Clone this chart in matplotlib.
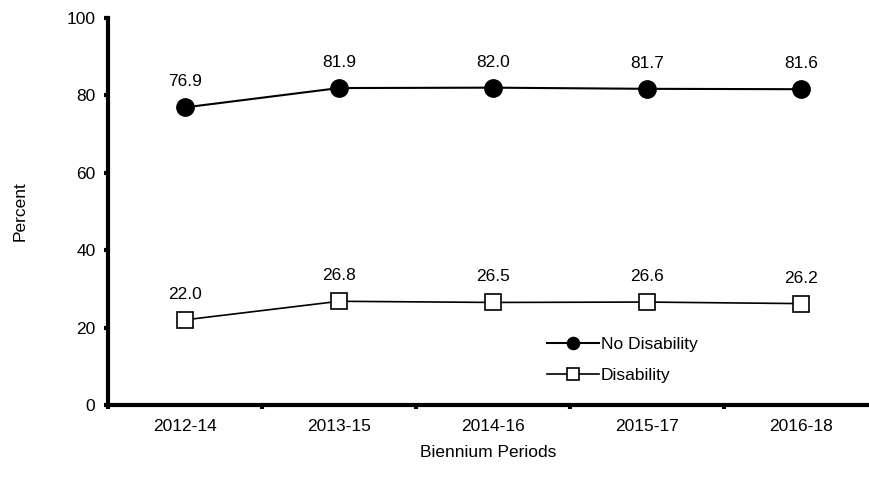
import matplotlib
matplotlib.use("Agg")
import matplotlib.pyplot as plt

periods = ["2012-14", "2013-15", "2014-16", "2015-17", "2016-18"]
no_disability = [76.9, 81.9, 82.0, 81.7, 81.6]
disability = [22.0, 26.8, 26.5, 26.6, 26.2]
yticks = [0, 20, 40, 60, 80, 100]

FS = 12.5
plt.rcParams['font.family'] = ['Liberation Sans', 'DejaVu Sans']
fig = plt.figure(figsize=(8.69, 4.87), dpi=100)
ax = fig.add_axes([108/869, 82/487, 1 - 108/869, (405-18)/487])

x = list(range(len(periods)))
ax.plot(x, no_disability, color='black', lw=1.5, marker='o', markersize=12.5,
        markerfacecolor='black', label='No Disability', zorder=3)
ax.plot(x, disability, color='black', lw=1.2, marker='s', markersize=12,
        markerfacecolor='white', markeredgewidth=1.2, label='Disability', zorder=3)

for xi, v in zip(x, no_disability):
    ax.annotate(f"{v:.1f}", (xi, v), xytext=(0, 13), textcoords='offset points',
                ha='center', va='bottom', fontsize=FS)
for xi, v in zip(x, disability):
    ax.annotate(f"{v:.1f}", (xi, v), xytext=(0, 13), textcoords='offset points',
                ha='center', va='bottom', fontsize=FS)

ax.set_xlim(-0.5, -0.5 + (869-108)/154)
ax.set_ylim(0, 100)
ax.set_yticks(yticks)
ax.set_yticklabels([str(t) for t in yticks], fontsize=FS)
ax.set_xticks(x)
ax.set_xticklabels(periods, fontsize=FS)
ax.tick_params(axis='x', which='major', length=0, pad=10)
ax.set_xticks([-0.5, 0.5, 1.5, 2.5, 3.5], minor=True)
ax.tick_params(axis='x', which='minor', length=3, width=3, direction='out')
ax.tick_params(axis='y', length=3, width=3, direction='out', pad=6)

for s in ['top', 'right']:
    ax.spines[s].set_visible(False)
for s in ['left', 'bottom']:
    ax.spines[s].set_linewidth(3)

ax.set_ylabel("Percent", fontsize=FS, labelpad=28)
ax.set_xlabel("Biennium Periods", fontsize=FS, labelpad=8)

leg = ax.legend(loc='upper left', bbox_to_anchor=((540-108)/761, (405-330)/387),
                frameon=False, fontsize=FS, handlelength=3.0, handletextpad=0.1,
                labelspacing=0.9, borderaxespad=0, markerscale=0.7)
fig.savefig("out.png", dpi=100)
